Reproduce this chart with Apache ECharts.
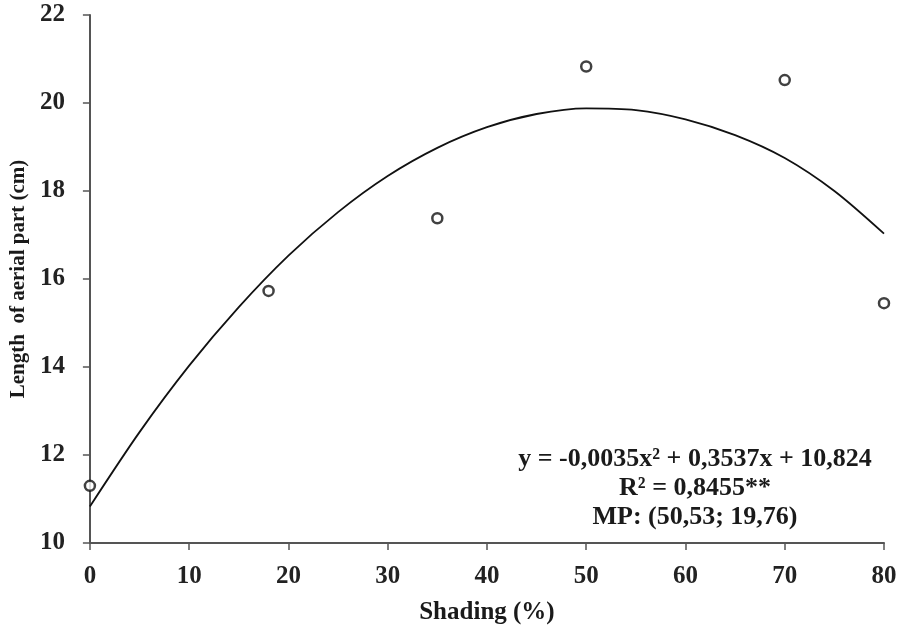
<!DOCTYPE html>
<html>
<head>
<meta charset="utf-8">
<script src="https://cdn.jsdelivr.net/npm/echarts@6/dist/echarts.min.js"></script>
<style>
  html, body { margin: 0; padding: 0; background: #ffffff; }
  #chart { width: 904px; height: 634px; }
</style>
</head>
<body>
<div id="chart"></div>
<script>
// observed points
var shading = [0, 18, 35, 50, 70, 80];
var lengthCm = [11.3, 15.73, 17.38, 20.83, 20.52, 15.45];

// fitted curve
var curveX = [0, 5, 10, 15, 20, 25, 30, 35, 40, 45, 50, 55, 60, 65, 70, 75, 80];
var curveY = [10.83, 12.52, 14.03, 15.36, 16.53, 17.52, 18.34, 18.98, 19.45, 19.75, 19.88, 19.84, 19.63, 19.27, 18.75, 18.0, 17.03];

var eqLines = ['y = -0,0035x\u00b2 + 0,3537x + 10,824', 'R\u00b2 = 0,8455**', 'MP: (50,53; 19,76)'];

var font = '"Liberation Serif", "DejaVu Serif", serif';

var chart = echarts.init(document.getElementById('chart'));

var option = {
  backgroundColor: '#ffffff',
  animation: false,
  grid: { left: 89, right: 20, top: 15, bottom: 91 },
  xAxis: {
    type: 'value',
    min: 0, max: 80, interval: 10,
    name: 'Shading (%)',
    nameLocation: 'middle',
    nameGap: 57,
    nameTextStyle: { fontFamily: font, fontSize: 25, fontWeight: 'bold', color: '#1a1a1a' },
    axisLine: { lineStyle: { color: '#555', width: 2 } },
    axisTick: { show: true, length: 7, lineStyle: { color: '#555', width: 1.5 } },
    axisLabel: { fontFamily: font, fontSize: 25, fontWeight: 'bold', color: '#222', margin: 21 },
    splitLine: { show: false }
  },
  yAxis: {
    type: 'value',
    min: 10, max: 22, interval: 2,
    name: 'Length  of aerial part (cm)',
    nameLocation: 'middle',
    nameGap: 60,
    nameTextStyle: { fontFamily: font, fontSize: 21, fontWeight: 'bold', color: '#1a1a1a' },
    axisLine: { show: true, lineStyle: { color: '#555', width: 2 } },
    axisTick: { show: true, length: 7, lineStyle: { color: '#555', width: 1.5 } },
    axisLabel: { fontFamily: font, fontSize: 25, fontWeight: 'bold', color: '#222', margin: 25 },
    splitLine: { show: false }
  },
  series: [
    {
      type: 'line',
      data: curveX.map(function (x, i) { return [x, curveY[i]]; }),
      smooth: 0.3,
      showSymbol: false,
      lineStyle: { color: '#111', width: 1.8 },
      z: 2
    },
    {
      type: 'scatter',
      data: shading.map(function (x, i) { return [x, lengthCm[i]]; }),
      symbol: 'circle',
      symbolSize: 10,
      itemStyle: { color: '#ffffff', borderColor: '#111', borderWidth: 2.5 },
      z: 3
    }
  ],
  graphic: eqLines.map(function (t, i) {
    return {
      type: 'text',
      style: {
        text: t,
        x: 695, y: 459 + i * 29,
        align: 'center', verticalAlign: 'middle',
        fontFamily: font, fontSize: 26, fontWeight: 'bold', fill: '#1a1a1a'
      }
    };
  })
};

chart.setOption(option);
</script>
</body>
</html>
